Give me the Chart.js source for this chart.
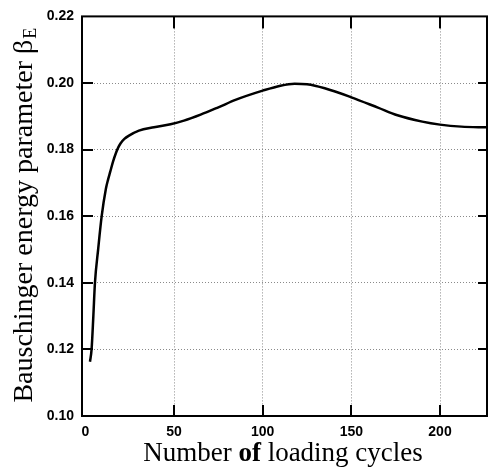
<!DOCTYPE html>
<html>
<head>
<meta charset="utf-8">
<script src="https://cdn.jsdelivr.net/npm/chart.js@4/dist/chart.umd.min.js"></script>
<style>
  html, body { margin: 0; padding: 0; background: #fff; }
  #wrap { width: 488px; height: 476px; }
</style>
</head>
<body>
<div id="wrap"><canvas id="chart"></canvas></div>
<script>
// values
const cycles = [2.6, 3.5, 4.5, 5.4, 7.2, 9.2, 11.6, 12.8, 14, 15.6, 17.4, 18.5, 19.9, 22, 24.6, 30.2, 38.7, 48, 55.6, 65, 75, 85, 100, 110, 118, 125, 135, 150, 165, 176, 190, 200, 212, 226.5]
const betaE = [0.1163, 0.12, 0.13, 0.14, 0.15, 0.16, 0.1683, 0.171, 0.1733, 0.1764, 0.1792, 0.1806, 0.1819, 0.1832, 0.1842, 0.1857, 0.1867, 0.1876, 0.1887, 0.1905, 0.1927, 0.195, 0.1977, 0.1992, 0.1998, 0.1996, 0.1984, 0.1957, 0.1926, 0.1903, 0.1884, 0.1875, 0.1869, 0.1867]
const xTicks = [0, 50, 100, 150, 200]
const yTicks = [0.10, 0.12, 0.14, 0.16, 0.18, 0.20, 0.22]

let ctx = document.getElementById('chart')

// inward tick marks
const tickMarks = {
    id: 'tickMarks',
    afterDatasetsDraw(chart) {
        const c = chart.ctx
        const a = chart.chartArea
        c.save()
        c.fillStyle = '#000'
        for (let i = 1; i < xTicks.length; i++) {
            let px = Math.round(chart.scales.x.getPixelForValue(xTicks[i]))
            c.fillRect(px - 1, a.bottom - 11, 2, 11)
            c.fillRect(px - 1, a.top, 2, 12)
        }
        for (let i = 1; i < yTicks.length - 1; i++) {
            let py = Math.round(chart.scales.y.getPixelForValue(yTicks[i]))
            c.fillRect(a.left, py - 1, 11, 2)
            c.fillRect(a.right - 9, py - 1, 9, 2)
        }
        c.restore()
    }
}

// frame and the two axis titles
const frame = {
    id: 'frame',
    afterDraw(chart) {
        const c = chart.ctx
        const a = chart.chartArea
        c.save()
        c.setLineDash([])
        c.strokeStyle = '#000'
        c.lineWidth = 2
        c.strokeRect(a.left, a.top, a.right - a.left, a.bottom - a.top)

        c.fillStyle = '#000'
        c.textBaseline = 'alphabetic'
        c.textAlign = 'left'

        // x title, "of" in bold
        const parts = [['Number ', '27px "Liberation Serif"'], ['of', 'bold 27px "Liberation Serif"'], [' loading cycles', '27px "Liberation Serif"']]
        let total = 0
        for (let p of parts) { c.font = p[1]; total += c.measureText(p[0]).width }
        let tx = 283 - total / 2
        for (let p of parts) { c.font = p[1]; c.fillText(p[0], tx, 461); tx += c.measureText(p[0]).width }

        // y title with subscript E
        const main = 'Bauschinger energy parameter β'
        c.translate(32, (a.top + a.bottom) / 2 - 1)
        c.rotate(-Math.PI / 2)
        c.font = '28px "Liberation Serif"'
        let wm = c.measureText(main).width
        c.font = '18px "Liberation Serif"'
        let ws = c.measureText('E').width
        let sx = -(wm + ws + 1) / 2
        c.font = '28px "Liberation Serif"'
        c.fillText(main, sx, 0)
        c.font = '18px "Liberation Serif"'
        c.fillText('E', sx + wm + 1, 4)
        c.restore()
    }
}

function setChart() {
    const data = {
        datasets: [{
            data: cycles.map((v, i) => ({ x: v, y: betaE[i] })),
            borderColor: '#000',
            borderWidth: 2.5,
            pointRadius: 0,
            cubicInterpolationMode: 'monotone',
            fill: false
        }]
    }

    new Chart(ctx, {
        type: 'line',
        data: data,
        plugins: [tickMarks, frame],
        options: {
            responsive: true,
            maintainAspectRatio: false,
            animation: false,
            layout: { padding: { top: 13, right: 1, left: 0, bottom: 0 } },
            plugins: {
                legend: { display: false },
                tooltip: { enabled: false }
            },
            scales: {
                x: {
                    type: 'linear',
                    min: -1.9,
                    max: 226.5,
                    afterBuildTicks: (s) => { s.ticks = xTicks.map(v => ({ value: v })) },
                    afterFit: (s) => { s.height = 60 },
                    grid: {
                        color: (c) => c.tick && c.tick.value === 0 ? 'rgba(0,0,0,0)' : '#8a8a8a',
                        lineWidth: 1,
                        drawTicks: false
                    },
                    border: { display: false, dash: [1, 2] },
                    ticks: {
                        padding: 8,
                        color: '#000',
                        maxRotation: 0,
                        font: { family: '"Liberation Sans", Arial, sans-serif', size: 14, weight: 'bold' },
                        callback: (v) => String(v)
                    }
                },
                y: {
                    min: 0.10,
                    max: 0.22,
                    afterBuildTicks: (s) => { s.ticks = yTicks.map(v => ({ value: v })) },
                    afterFit: (s) => { s.width = 82 },
                    grid: {
                        color: '#8a8a8a',
                        lineWidth: 1,
                        drawTicks: false
                    },
                    border: { display: false, dash: [1, 2] },
                    ticks: {
                        padding: 8,
                        color: '#000',
                        font: { family: '"Liberation Sans", Arial, sans-serif', size: 14, weight: 'bold' },
                        callback: (v) => v.toFixed(2)
                    }
                }
            }
        }
    })
}

setChart()
</script>
</body>
</html>
